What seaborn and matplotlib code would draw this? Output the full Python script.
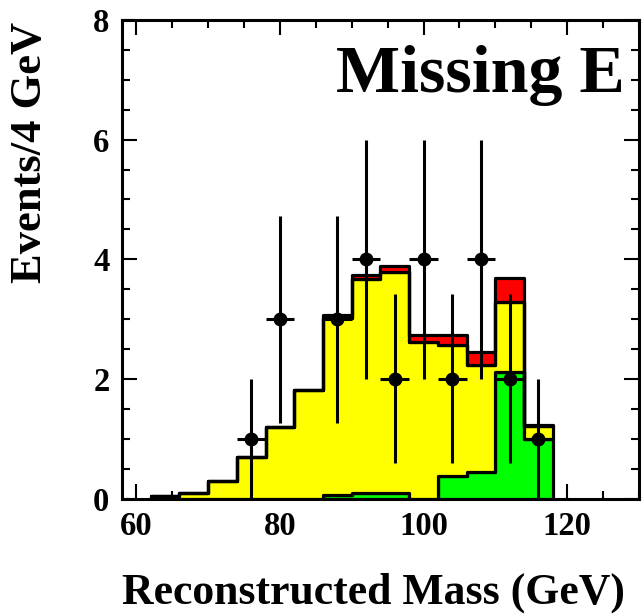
import numpy as np
import pandas as pd
import matplotlib
matplotlib.use("Agg")
import matplotlib.pyplot as plt
import seaborn as sns
from matplotlib.ticker import MultipleLocator

# Reconstructed-mass bins (4 GeV wide), given by their centres
mass_bins = [64, 68, 72, 76, 80, 84, 88, 92, 96, 100, 104, 108, 112, 116]

# Expected events per bin for each stacked component
green_events = [0, 0, 0, 0, 0, 0, 0.06, 0.09, 0.09, 0, 0.38, 0.44, 2.12, 1.00]
yellow_events = [0.05, 0.09, 0.30, 0.69, 1.20, 1.81, 2.95, 3.58, 3.69, 2.61, 2.19, 1.79, 1.17, 0.21]
red_events = [0, 0, 0, 0, 0, 0, 0.06, 0.06, 0.11, 0.13, 0.16, 0.22, 0.40, 0.02]

# Observed candidates
data_mass = [76, 80, 88, 92, 96, 100, 104, 108, 112, 116]
data_events = [1, 3, 3, 4, 2, 4, 2, 4, 2, 1]

bin_width = 4
bin_edges = [float(m - bin_width / 2) for m in mass_bins] + [mass_bins[-1] + bin_width / 2]

components = {"green": green_events, "yellow": yellow_events, "red": red_events}
mc = pd.concat(
    [pd.DataFrame({"mass": mass_bins, "events": vals, "process": name})
     for name, vals in components.items()],
    ignore_index=True,
)

sns.set_style("ticks")
plt.rcParams["font.family"] = ["Liberation Serif", "DejaVu Serif"]
plt.rcParams["font.weight"] = "bold"
for key in ("text.color", "axes.labelcolor", "xtick.color", "ytick.color", "axes.edgecolor"):
    plt.rcParams[key] = "black"

fig = plt.figure(figsize=(6.43, 6.15), dpi=100)
ax = fig.add_axes([0.1897, 0.1894, 0.8040, 0.7780])

# seaborn stacks the last hue level at the bottom
sns.histplot(
    data=mc, x="mass", weights="events", hue="process",
    hue_order=["red", "yellow", "green"],
    palette={"green": "#00ff00", "yellow": "#ffff00", "red": "#ff0000"},
    multiple="stack", bins=bin_edges, element="step",
    edgecolor="black", linewidth=2.3, alpha=1, legend=False, ax=ax,
)

ax.errorbar(
    data_mass, data_events, xerr=bin_width / 2, yerr=np.sqrt(data_events),
    fmt="o", color="black", ms=9, elinewidth=2.2, capsize=0, zorder=5,
)

ax.set_xlim(58, 130)
ax.set_ylim(0, 8)
ax.xaxis.set_major_locator(MultipleLocator(20))
ax.xaxis.set_minor_locator(MultipleLocator(5))
ax.yaxis.set_major_locator(MultipleLocator(2))
ax.yaxis.set_minor_locator(MultipleLocator(0.5))

ax.tick_params(which="both", direction="in", top=True, right=True,
               width=1.5, labelsize=23.5, pad=9, colors="black")
ax.tick_params(which="major", length=11)
ax.tick_params(which="minor", length=5.5)
for lab in ax.get_xticklabels() + ax.get_yticklabels():
    lab.set_fontweight("bold")
for sp in ax.spines.values():
    sp.set_linewidth(2.2)
    sp.set_visible(True)
    sp.set_color("black")

ax.set_xlabel("Reconstructed Mass (GeV)", fontsize=31.5, fontweight="bold",
              va="baseline")
ax.xaxis.set_label_coords(0.487, -0.219)
ax.set_ylabel("Events/4 GeV", fontsize=32, fontweight="bold", va="center")
ax.yaxis.set_label_coords(-0.178, 0.724)

ax.text(0.973, 0.850, "Missing E", transform=ax.transAxes, ha="right",
        va="baseline", fontsize=49, fontweight="bold")

fig.savefig("out.png", dpi=100)
